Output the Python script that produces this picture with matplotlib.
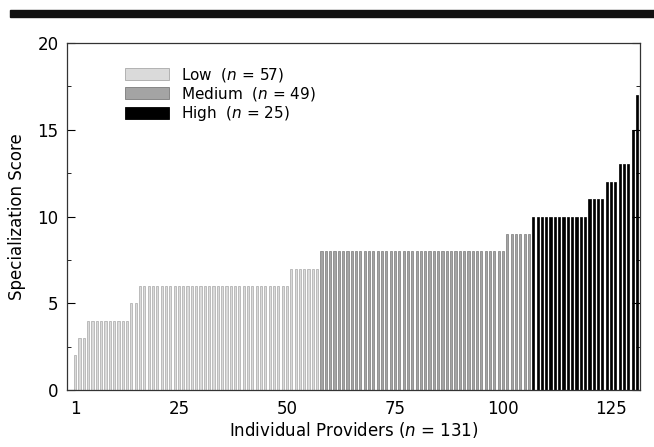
import numpy as np
import matplotlib
matplotlib.use('Agg')
import matplotlib.pyplot as plt
from matplotlib.patches import Patch, Rectangle

# sorted specialization scores (value, count)
low_levels = [2, 3, 4, 5, 6, 7]
low_counts = [1, 2, 10, 2, 35, 7]
med_levels = [8, 9]
med_counts = [43, 6]
high_levels = [10, 11, 12, 13, 15, 17]
high_counts = [13, 4, 3, 3, 1, 1]

group_names = ['Low', 'Medium', 'High']
group_n = [57, 49, 25]
group_colors = ['#dadada', '#a4a4a4', '#000000']
group_edges = ['#a8a8a8', '#7a7a7a', '#000000']

low = np.repeat(low_levels, low_counts)
med = np.repeat(med_levels, med_counts)
high = np.repeat(high_levels, high_counts)
scores = np.concatenate([low, med, high])
x = np.arange(1, len(scores) + 1)

fig = plt.figure(figsize=(6.54, 4.47), dpi=100)
# heavy rule across the top
fig.patches.append(Rectangle((10 / 654, 1 - 17 / 447), 1, 7 / 447,
                             transform=fig.transFigure, color='#111111', zorder=0))

ax = fig.add_axes([67 / 654, 57 / 447, 573 / 654, 347 / 447])

start = 0
for vals, col, ec in zip([low, med, high], group_colors, group_edges):
    xs = x[start:start + len(vals)]
    ax.bar(xs, vals, width=0.5, color=col, edgecolor=ec, linewidth=0.5)
    start += len(vals)

ax.set_xlim(-0.9, 131.7)
ax.set_ylim(0, 20)
ax.set_xticks([1, 25, 50, 75, 100, 125])
ax.set_yticks([0, 5, 10, 15, 20])
ax.set_yticks(np.arange(0, 20.1, 2.5), minor=True)
ax.tick_params(axis='x', length=0, pad=7, labelsize=12)
ax.tick_params(axis='y', which='both', direction='in', right=True, labelsize=12, pad=6)
ax.tick_params(axis='y', which='major', length=6)
ax.tick_params(axis='y', which='minor', length=3)
for s in ax.spines.values():
    s.set_linewidth(0.9)
    s.set_color('#333333')

ax.set_xlabel(r'Individual Providers ($n$ = 131)', fontsize=12, labelpad=2)
ax.set_ylabel('Specialization Score', fontsize=12, labelpad=8)

handles = [Patch(facecolor=c, edgecolor=e, linewidth=0.6) for c, e in zip(group_colors, group_edges)]
labels = [r'%s  ($n$ = %d)' % (g, n) for g, n in zip(group_names, group_n)]
ax.legend(handles, labels, loc='upper left', bbox_to_anchor=(0.082, 0.965),
          frameon=False, fontsize=11, handlelength=2.9, handleheight=0.8,
          labelspacing=0.08, handletextpad=0.8, borderpad=0.2)

fig.savefig('out.png', dpi=100)
